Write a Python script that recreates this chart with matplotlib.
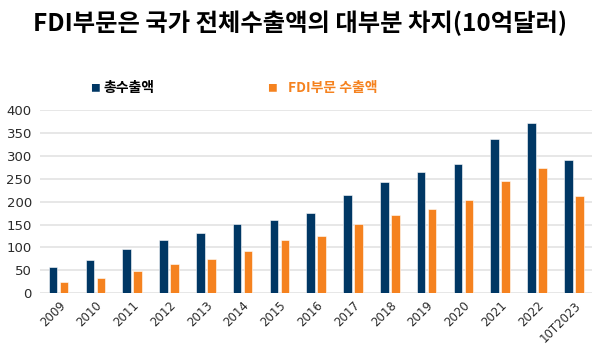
import numpy as np
import matplotlib
matplotlib.use("Agg")
import matplotlib.pyplot as plt

plt.rcParams['font.family'] = ['Noto Sans CJK KR', 'DejaVu Sans']

# Data (10억달러)
years = ["2009", "2010", "2011", "2012", "2013", "2014", "2015", "2016",
         "2017", "2018", "2019", "2020", "2021", "2022", "10T2023"]
total_exports = [58, 73, 97, 116, 132, 151, 161, 176, 215, 243, 265, 282, 336, 372, 291]
fdi_exports = [24, 33, 49, 63, 74, 93, 116, 125, 152, 172, 184, 204, 245, 274, 213]

navy = '#003764'
orange = '#F5821F'

fig = plt.figure(figsize=(6, 3.52), dpi=100)
ax = fig.add_axes([0.067, 0.167, 0.92, 0.52])

x = np.arange(len(years))
w = 0.23
ax.bar(x - 0.15, total_exports, width=w, color=navy, edgecolor='white', linewidth=0.4, zorder=3)
ax.bar(x + 0.15, fdi_exports, width=w, color=orange, edgecolor='white', linewidth=0.4, zorder=3)

ax.set_xlim(-0.5, len(years) - 0.5)
ax.set_ylim(0, 400)
ax.set_yticks(range(0, 401, 50))
ax.yaxis.grid(True, color='#e3e3e3', linewidth=1.2, zorder=0)
for s in ax.spines.values():
    s.set_visible(False)
ax.tick_params(axis='both', length=0, colors='#2b2b2b')
ax.set_xticks(x)
ax.set_xticklabels(years, rotation=45, ha='right', rotation_mode='anchor',
                   family='DejaVu Sans', fontsize=8.5)
for lab in ax.get_yticklabels():
    lab.set_family('DejaVu Sans')
    lab.set_fontsize(9.5)
ax.tick_params(axis='x', pad=4)
ax.tick_params(axis='y', pad=6)

fig.text(0.5, 0.935, "FDI부문은 국가 전체수출액의 대부분 차지(10억달러)",
         ha='center', va='center', fontsize=17.5, fontweight='bold', color='black')

# legend
fig.text(0.158, 0.75, "■", ha='center', va='center', fontsize=7, color=navy)
fig.text(0.172, 0.75, "총수출액", ha='left', va='center', fontsize=10,
         fontweight='bold', color='black')
fig.text(0.453, 0.75, "■", ha='center', va='center', fontsize=7, color=orange)
fig.text(0.48, 0.75, "FDI부문 수출액", ha='left', va='center', fontsize=10,
         fontweight='bold', color=orange)

fig.savefig("out.png", dpi=100)
